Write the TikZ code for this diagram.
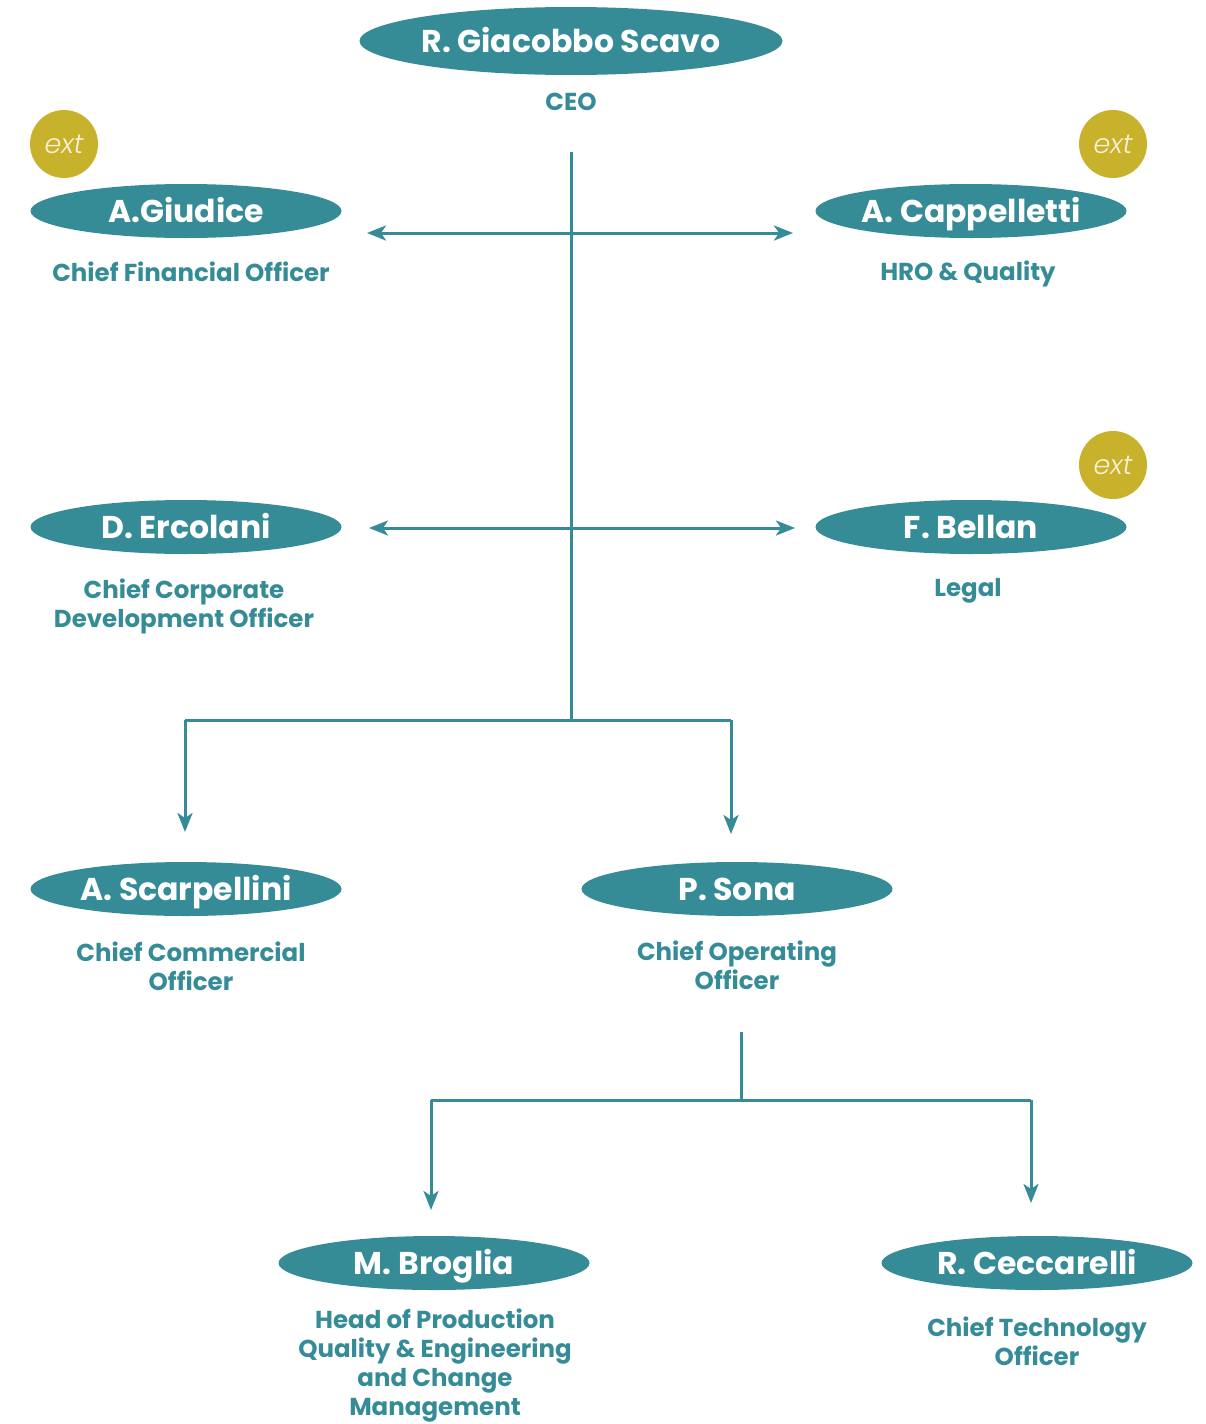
\documentclass[tikz,border=0pt]{standalone}
\usepackage{fontspec}
\setmainfont{Poppins}
\newfontfamily\extfont{Poppins Light}[ItalicFont=Poppins Light Italic]
\usetikzlibrary{arrows.meta,shapes.geometric}
\definecolor{tealc}{HTML}{358C96}
\definecolor{gold}{HTML}{C9B22B}
\definecolor{cream}{HTML}{F7F1DC}
\begin{document}
\begin{tikzpicture}[x=1pt,y=-1pt,
  person/.style={ellipse,fill=tealc,text=white,minimum width=311pt,minimum height=54pt,inner sep=0pt,text height=22pt,text depth=0pt,font=\fontsize{31.5}{32}\selectfont\bfseries},
  role/.style={text=tealc,align=center,font=\fontsize{24.5}{29}\selectfont\bfseries},
  extc/.style={circle,fill=gold,minimum size=68pt,inner sep=0pt,text=cream,font=\fontsize{27}{27}\extfont\itshape},
  conn/.style={draw=tealc,line width=3pt},
  tip/.style={-{Stealth[length=19pt,width=15pt,inset=5pt]}},
  tips/.style={{Stealth[length=19pt,width=15pt,inset=5pt]}-{Stealth[length=19pt,width=15pt,inset=5pt]}}]
\useasboundingbox (0,0) rectangle (1205,1424);
% CEO
\node[person,minimum width=423pt,minimum height=68pt] (ceo) at (571,41) {R. Giacobbo Scavo};
\node[role] (ceor) at (571,102) {CEO};
% row 1
\node[person] (giu) at (186,211) {A.Giudice};
\node[role] (giur) at (191,272) {Chief Financial Officer};
\node[extc] (ext1) at (64,144) {ext};
\node[person] (cap) at (971,211) {A. Cappelletti};
\node[role] (capr) at (968,274) {HRO \& Quality};
\node[extc] (ext2) at (1113,144) {ext};
% row 2
\node[person] (erc) at (186,527) {D. Ercolani};
\node[role] (ercr) at (184,606) {Chief Corporate\\Development Officer};
\node[person] (bel) at (971,527) {F. Bellan};
\node[role] (belr) at (968,591) {Legal};
\node[extc] (ext3) at (1113,465) {ext};
% row 3
\node[person] (sca) at (186,889) {A. Scarpellini};
\node[role] (scar) at (191,966) {Chief Commercial\\Officer};
\node[person] (son) at (737,889) {P. Sona};
\node[role] (sonr) at (737,965) {Chief Operating\\Officer};
% row 4
\node[person] (bro) at (434,1263) {M. Broglia};
\node[role] (bror) at (435,1366) {Head of Production\\Quality \& Engineering\\and Change\\Management};
\node[person] (cec) at (1037,1263) {R. Ceccarelli};
\node[role] (cecr) at (1037,1341) {Chief Technology\\Officer};
% coordinates
\coordinate (v0) at (571,152);
\coordinate (v1) at (571,720);
\coordinate (l1) at (367,233);
\coordinate (r1) at (793,233);
\coordinate (l2) at (369,528);
\coordinate (r2) at (795,528);
\coordinate (bl) at (185,720);
\coordinate (br) at (731,720);
\coordinate (al) at (185,832);
\coordinate (ar) at (731,834);
\coordinate (s0) at (741,1032);
\coordinate (s1) at (741,1100);
\coordinate (cl) at (431,1100);
\coordinate (cr) at (1031,1100);
\coordinate (dl) at (431,1210);
\coordinate (dr) at (1031,1203);
% connectors
\draw[conn] (v0) -- (v1);
\draw[conn,tips] (l1) -- (r1);
\draw[conn,tips] (l2) -- (r2);
\draw[conn] (bl) -- (br);
\draw[conn,tip] (bl) -- (al);
\draw[conn,tip] (br) -- (ar);
\draw[conn] (s0) -- (s1);
\draw[conn] (cl) -- (cr);
\draw[conn,tip] (cl) -- (dl);
\draw[conn,tip] (cr) -- (dr);
\end{tikzpicture}
\end{document}
